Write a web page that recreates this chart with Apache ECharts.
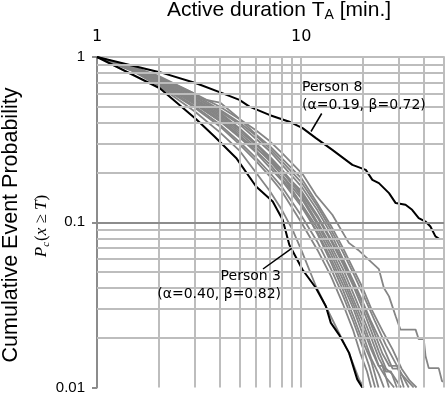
<!DOCTYPE html>
<html>
<head>
<meta charset="utf-8">
<script src="https://cdn.jsdelivr.net/npm/echarts@6/dist/echarts.min.js"></script>
<style>
  html, body { margin: 0; padding: 0; background: #fff; }
  #chart { width: 447px; height: 395px; }
</style>
</head>
<body>
<div id="chart"></div>
<script>
// tick values / grid lines
const xMajorTicks = [1, 10];
const xGridValues = [2, 3, 4, 5, 6, 7, 8, 9, 10, 20, 30, 40, 50];
const yGridValues = [0.02, 0.03, 0.04, 0.05, 0.06, 0.07, 0.08, 0.09,
  0.2, 0.3, 0.4, 0.5, 0.6, 0.7, 0.8, 0.9];
const yMajorValues = [0.1];

// highlighted persons: [T (min), P(x>=T)]
const person8 = [[1, 1], [2.07, 0.804], [3.06, 0.694], [4.13, 0.602], [4.98, 0.55],
  [5.58, 0.501], [6.98, 0.446], [8.74, 0.406], [10.15, 0.371], [11.8, 0.323],
  [14.2, 0.274], [17.8, 0.2225], [20.7, 0.2075], [22.3, 0.1806], [24.0, 0.1725],
  [26.9, 0.150], [29.0, 0.1306], [32.4, 0.1276], [34.9, 0.119], [37.6, 0.106],
  [40.6, 0.101], [42.9, 0.0943], [45.4, 0.0821], [47.5, 0.0792], [50, 0.0792]];
const person3 = [[1, 1], [2.03, 0.647], [3.06, 0.42], [3.76, 0.33], [4.8, 0.245],
  [6.01, 0.1645], [7.25, 0.1336], [8.11, 0.1035], [8.74, 0.0731], [10.15, 0.0516],
  [11.8, 0.040], [13.2, 0.031], [13.96, 0.0246], [15.3, 0.0209], [17.15, 0.0162],
  [18.8, 0.0112], [19.9, 0.01]];

// other persons (grey)
const grey1 = [[1, 1], [1.5, 0.87], [2, 0.76], [3, 0.6], [4, 0.5], [5, 0.42], [6, 0.36],
  [7, 0.31], [8, 0.265], [10.2, 0.194], [11.8, 0.146], [14.2, 0.111], [17.1, 0.075],
  [19, 0.068], [21.5, 0.059], [24, 0.052], [25.4, 0.04], [26.9, 0.0356], [29, 0.027],
  [30.6, 0.0224], [36.3, 0.0224], [37.6, 0.0196], [39.8, 0.0196], [40.6, 0.0155],
  [42.1, 0.0131], [47.1, 0.0131], [48.9, 0.0109], [50, 0.0109]];
const grey2 = [[1, 1], [1.5, 0.875], [2, 0.77], [3, 0.6], [3.2, 0.56], [4, 0.53],
  [4.8, 0.44], [6, 0.34], [7, 0.29], [8, 0.245], [10, 0.185], [12, 0.13], [14, 0.095],
  [16, 0.07], [18, 0.052], [20, 0.04], [22, 0.03], [25, 0.022], [28, 0.017],
  [31, 0.013], [34, 0.011], [36.7, 0.01]];
const grey3 = [[1, 1], [1.5, 0.87], [2, 0.75], [3, 0.59], [4, 0.48], [5, 0.40],
  [6, 0.335], [7, 0.28], [8, 0.235], [10, 0.175], [12, 0.125], [14, 0.09], [16, 0.066],
  [18, 0.049], [20, 0.037], [23, 0.025], [26, 0.018], [29, 0.014], [31, 0.012],
  [35.5, 0.01]];
const grey4 = [[1, 1], [1.5, 0.86], [2, 0.745], [3, 0.575], [4, 0.47], [5, 0.39],
  [6, 0.32], [7, 0.27], [8, 0.225], [10, 0.165], [12, 0.118], [14, 0.085], [16, 0.06],
  [18, 0.044], [20, 0.033], [22, 0.025], [25, 0.018], [28, 0.013], [30, 0.013],
  [33.6, 0.01]];
const grey5 = [[1, 1], [1.5, 0.84], [2, 0.7], [3, 0.52], [4, 0.41], [5, 0.33],
  [6, 0.28], [7, 0.24], [8, 0.205], [10, 0.155], [12, 0.11], [14, 0.079], [16, 0.058],
  [18, 0.043], [20, 0.032], [22, 0.024], [25, 0.016], [27, 0.0135], [29.5, 0.0135],
  [31.8, 0.01]];
const grey6 = [[1, 1], [1.5, 0.85], [2, 0.73], [3, 0.56], [4, 0.45], [5, 0.365],
  [6, 0.3], [7, 0.25], [8, 0.21], [10, 0.15], [12, 0.107], [14, 0.077], [16, 0.056],
  [18, 0.041], [20, 0.03], [22, 0.022], [24, 0.0165], [26, 0.013], [28, 0.012],
  [30.8, 0.01]];
const grey7 = [[1, 1], [1.5, 0.85], [2, 0.72], [3, 0.555], [4, 0.44], [5, 0.355],
  [6, 0.295], [7, 0.245], [8, 0.205], [10, 0.145], [12, 0.1], [14, 0.072], [16, 0.052],
  [18, 0.037], [20, 0.027], [22, 0.02], [24, 0.015], [26, 0.0125], [27.5, 0.0125],
  [29.4, 0.01]];
const grey8 = [[1, 1], [1.5, 0.845], [2, 0.715], [3, 0.545], [4, 0.43], [5, 0.345],
  [6, 0.285], [7, 0.235], [8, 0.195], [10, 0.14], [12, 0.097], [14, 0.068], [16, 0.048],
  [18, 0.034], [20, 0.025], [22, 0.018], [24, 0.0135], [26, 0.0115], [28.5, 0.01]];
const grey9 = [[1, 1], [1.5, 0.84], [2, 0.71], [3, 0.535], [4, 0.42], [5, 0.335],
  [6, 0.27], [7, 0.225], [8, 0.185], [10, 0.13], [12, 0.092], [14, 0.064], [16, 0.045],
  [18, 0.032], [20, 0.023], [22, 0.017], [23.9, 0.0135], [25, 0.0135], [26.9, 0.01]];
const grey10 = [[1, 1], [1.5, 0.84], [2, 0.705], [3, 0.525], [4, 0.41], [5, 0.325],
  [6, 0.265], [7, 0.215], [8, 0.18], [10, 0.125], [12, 0.087], [14, 0.06], [16, 0.042],
  [18, 0.03], [20, 0.021], [22, 0.015], [24, 0.012], [25.4, 0.01]];
const grey11 = [[1, 1], [1.5, 0.86], [2, 0.74], [3, 0.575], [4, 0.46], [5, 0.37],
  [6, 0.3], [7, 0.24], [8, 0.195], [10, 0.13], [12, 0.085], [14, 0.057], [16, 0.039],
  [18, 0.027], [20, 0.019], [22, 0.0145], [23.9, 0.01]];
const grey12 = [[1, 1], [1.5, 0.83], [2, 0.69], [3, 0.505], [4, 0.39], [5, 0.305],
  [6, 0.245], [7, 0.2], [8, 0.165], [10, 0.11], [12, 0.076], [14, 0.052], [16, 0.036],
  [18, 0.025], [20, 0.0175], [21.5, 0.0135], [23, 0.01]];
const grey13 = [[1, 1], [1.5, 0.825], [2, 0.68], [3, 0.495], [4, 0.38], [5, 0.295],
  [6, 0.235], [7, 0.19], [8, 0.155], [10, 0.1], [12, 0.068], [14, 0.047], [16, 0.032],
  [18, 0.022], [19.5, 0.016], [21, 0.0125], [22, 0.01]];
const grey14 = [[1, 1], [1.5, 0.82], [2, 0.67], [3, 0.47], [4, 0.35], [5, 0.27],
  [6, 0.2], [7, 0.155], [8, 0.12], [9.07, 0.09], [10, 0.068], [11.8, 0.041],
  [14.2, 0.0258], [17.1, 0.0162], [19.2, 0.0112], [20.2, 0.01]];

const greyPersons = [grey1, grey2, grey3, grey4, grey5, grey6, grey7, grey8,
  grey9, grey10, grey11, grey12, grey13, grey14];

const chart = echarts.init(document.getElementById('chart'));

const gridLineStyle = { color: '#bdbdbd', width: 2, type: 'solid' };

const lineSeries = (data, color, width, z) => ({
  type: 'line',
  data: data,
  showSymbol: false,
  symbol: 'none',
  silent: true,
  z: z,
  lineStyle: { color: color, width: width },
});

const series = [
  {
    // grid lines drawn through the axes' own scales
    type: 'line',
    data: [[1, 1]],
    symbol: 'none',
    silent: true,
    z: 1,
    lineStyle: { opacity: 0 },
    markLine: {
      silent: true,
      symbol: ['none', 'none'],
      label: { show: false },
      animation: false,
      lineStyle: gridLineStyle,
      data: [
        ...xGridValues.map(v => ({ xAxis: v })),
        ...yGridValues.map(v => ({ yAxis: v })),
        ...yMajorValues.map(v => ({ yAxis: v, lineStyle: { color: '#8c8c8c', width: 2 } })),
      ],
    },
  },
  ...greyPersons.map(d => lineSeries(d, '#858585', 1.8, 3)),
  lineSeries(person3, '#000', 2, 4),
  lineSeries(person8, '#000', 2, 4),
];

const option = {
  animation: false,
  grid: { left: 97, top: 57, width: 349, height: 331 },
  xAxis: {
    type: 'log',
    logBase: 10,
    min: 1,
    max: 50,
    position: 'top',
    axisLine: { show: true, lineStyle: { color: '#bdbdbd', width: 2 } },
    axisTick: { show: false },
    splitLine: { show: false },
    axisLabel: {
      margin: 12,
      color: '#000',
      fontFamily: 'DejaVu Sans, Verdana',
      fontSize: 16,
      formatter: v => (xMajorTicks.includes(v) ? String(v) : ''),
    },
  },
  yAxis: {
    type: 'log',
    logBase: 10,
    min: 0.01,
    max: 1,
    axisLine: { show: true, lineStyle: { color: '#8c8c8c', width: 2 } },
    axisTick: { show: true, length: 5, lineStyle: { color: '#8c8c8c', width: 2 } },
    splitLine: { show: false },
    axisLabel: {
      margin: 12,
      color: '#000',
      fontFamily: 'Liberation Sans, Arial',
      fontSize: 15,
      formatter: v => String(v),
    },
  },
  series: series,
  graphic: [
    {
      type: 'text', left: 167, top: 0, z: 10,
      style: {
        text: '{a|Active duration T}{s|A}{a| [min.]}',
        rich: {
          a: { fontFamily: 'Liberation Sans, Arial', fontSize: 21, fill: '#000' },
          s: { fontFamily: 'Liberation Sans, Arial', fontSize: 14, fill: '#000', padding: [9, 0, 0, 0] },
        },
      },
    },
    {
      type: 'text', x: 11, y: 225, rotation: Math.PI / 2, z: 10,
      style: {
        text: 'Cumulative Event Probability',
        fontFamily: 'Liberation Sans, Arial', fontSize: 21.5, fill: '#000',
        align: 'center', verticalAlign: 'middle',
      },
    },
    {
      type: 'text', x: 42, y: 226, rotation: Math.PI / 2, z: 10,
      style: {
        text: '{i|P}{c|c}{n|(}{i|x}{n| ≥ }{i|T}{n|)}',
        align: 'center', verticalAlign: 'middle',
        rich: {
          i: { fontFamily: 'Liberation Serif, Times New Roman', fontStyle: 'italic', fontSize: 17, fill: '#000' },
          c: { fontFamily: 'Liberation Serif, Times New Roman', fontStyle: 'italic', fontSize: 11, fill: '#000', padding: [8, 1, 0, 0] },
          n: { fontFamily: 'Liberation Serif, Times New Roman', fontSize: 17, fill: '#000' },
        },
      },
    },
    // Person 8 annotation
    {
      type: 'rect', shape: { x: 297, y: 76, width: 150, height: 40 }, z: 5,
      style: { fill: '#fff' }, silent: true,
    },
    {
      type: 'text', x: 302, y: 78, z: 6,
      style: {
        text: 'Person 8\n(α=0.19, β=0.72)',
        fontFamily: 'DejaVu Sans, Verdana', fontSize: 14, lineHeight: 18, fill: '#000',
      },
    },
    {
      type: 'line', z: 6, shape: { x1: 321.7, y1: 113.5, x2: 311, y2: 131.5 },
      style: { stroke: '#000', lineWidth: 1.5 },
    },
    // Person 3 annotation
    {
      type: 'rect', shape: { x: 120, y: 264, width: 166, height: 40 }, z: 5,
      style: { fill: '#fff' }, silent: true,
    },
    {
      type: 'text', x: 281, y: 267, z: 6,
      style: {
        text: 'Person 3\n(α=0.40, β=0.82)', align: 'right',
        fontFamily: 'DejaVu Sans, Verdana', fontSize: 14, lineHeight: 18, fill: '#000',
      },
    },
    {
      type: 'line', z: 6, shape: { x1: 263, y1: 269, x2: 291.7, y2: 248.3 },
      style: { stroke: '#000', lineWidth: 1.5 },
    },
  ],
};

chart.setOption(option);
</script>
</body>
</html>
